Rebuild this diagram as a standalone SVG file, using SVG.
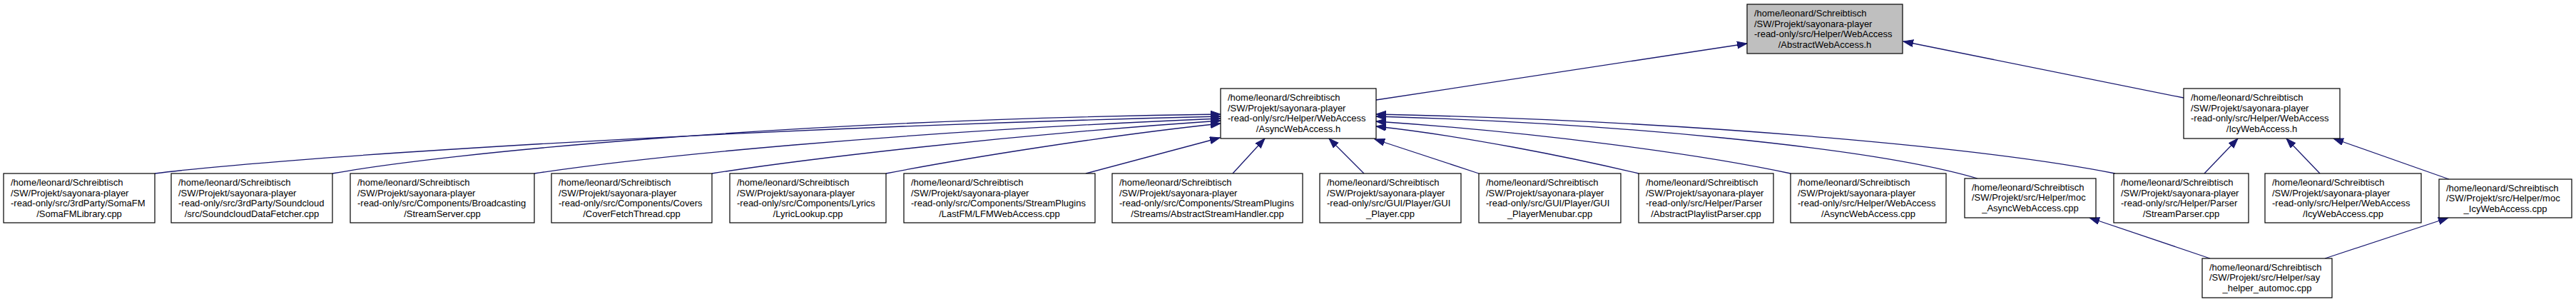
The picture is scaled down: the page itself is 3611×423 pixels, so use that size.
<svg xmlns="http://www.w3.org/2000/svg" width="3611" height="423" viewBox="0 0 3611 423">
<style>
.n rect{fill:#fff;stroke:#000;stroke-width:1.2}
.n.g rect{fill:#bfbfbf}
.n text{font-family:"Liberation Sans",Arial,sans-serif;font-size:13px;fill:#000}
.n text.c{text-anchor:middle}
#edges path{fill:none;stroke:#191970;stroke-width:1.3;marker-end:url(#ah)}
</style>
<defs>
<marker id="ah" markerUnits="userSpaceOnUse" markerWidth="16" markerHeight="12" refX="14" refY="5" orient="auto">
<path d="M0,0 L14,5 L0,10 z" fill="#191970" stroke="#191970" stroke-width="1"/>
</marker>
</defs>
<rect width="3611" height="423" fill="#fff"/>
<g id="edges">
<path d="M1929,140 L2449,61"/>
<path d="M3061,137 L2668,58"/>
<path d="M217,243 C380,222 1000,180 1711,163"/>
<path d="M466,243 C620,215 1100,168 1711,160"/>
<path d="M749,243 C900,220 1250,185 1711,166"/>
<path d="M998,243 C1120,224 1400,190 1711,169"/>
<path d="M1242,243 C1350,222 1550,190 1711,173"/>
<path d="M1522,243 L1710,193"/>
<path d="M1728,243 L1773,194"/>
<path d="M1912,243 L1863,194"/>
<path d="M2073,243 L1927,195"/>
<path d="M2297,243 C2200,220 2050,190 1929,177"/>
<path d="M2510,243 C2380,215 2150,185 1929,170"/>
<path d="M2772,250 C2620,205 2250,172 1929,163"/>
<path d="M2965,243 C2800,210 2400,170 1929,160"/>
<path d="M3090,243 L3137,194"/>
<path d="M3252,243 L3205,194"/>
<path d="M3433,251 L3271,194"/>
<path d="M3098,362 L2929,305"/>
<path d="M3259,362 L3432,305"/>
</g>
<g id="abstract_h" class="n g"><rect x="2449" y="6" width="218" height="69"/>
<text x="2459" y="23">/home/leonard/Schreibtisch</text><text x="2459" y="37.5">/SW/Projekt/sayonara-player</text><text x="2459" y="52">-read-only/src/Helper/WebAccess</text><text class="c" x="2558" y="66.5">/AbstractWebAccess.h</text></g>
<g id="async_h" class="n"><rect x="1711" y="124" width="218" height="70"/>
<text x="1721" y="141">/home/leonard/Schreibtisch</text><text x="1721" y="155.5">/SW/Projekt/sayonara-player</text><text x="1721" y="170">-read-only/src/Helper/WebAccess</text><text class="c" x="1820" y="184.5">/AsyncWebAccess.h</text></g>
<g id="icy_h" class="n"><rect x="3061" y="124" width="219" height="70"/>
<text x="3071" y="141">/home/leonard/Schreibtisch</text><text x="3071" y="155.5">/SW/Projekt/sayonara-player</text><text x="3071" y="170">-read-only/src/Helper/WebAccess</text><text class="c" x="3170.5" y="184.5">/IcyWebAccess.h</text></g>
<g id="somafm" class="n"><rect x="5" y="243" width="212" height="69"/>
<text x="15" y="260">/home/leonard/Schreibtisch</text><text x="15" y="274.5">/SW/Projekt/sayonara-player</text><text x="15" y="289">-read-only/src/3rdParty/SomaFM</text><text class="c" x="111" y="303.5">/SomaFMLibrary.cpp</text></g>
<g id="soundcloud" class="n"><rect x="240" y="243" width="226" height="69"/>
<text x="250" y="260">/home/leonard/Schreibtisch</text><text x="250" y="274.5">/SW/Projekt/sayonara-player</text><text x="250" y="289">-read-only/src/3rdParty/Soundcloud</text><text class="c" x="353" y="303.5">/src/SoundcloudDataFetcher.cpp</text></g>
<g id="broadcasting" class="n"><rect x="491" y="243" width="258" height="69"/>
<text x="501" y="260">/home/leonard/Schreibtisch</text><text x="501" y="274.5">/SW/Projekt/sayonara-player</text><text x="501" y="289">-read-only/src/Components/Broadcasting</text><text class="c" x="620" y="303.5">/StreamServer.cpp</text></g>
<g id="covers" class="n"><rect x="773" y="243" width="225" height="69"/>
<text x="783" y="260">/home/leonard/Schreibtisch</text><text x="783" y="274.5">/SW/Projekt/sayonara-player</text><text x="783" y="289">-read-only/src/Components/Covers</text><text class="c" x="885.5" y="303.5">/CoverFetchThread.cpp</text></g>
<g id="lyrics" class="n"><rect x="1023" y="243" width="219" height="69"/>
<text x="1033" y="260">/home/leonard/Schreibtisch</text><text x="1033" y="274.5">/SW/Projekt/sayonara-player</text><text x="1033" y="289">-read-only/src/Components/Lyrics</text><text class="c" x="1132.5" y="303.5">/LyricLookup.cpp</text></g>
<g id="lastfm" class="n"><rect x="1267" y="243" width="268" height="69"/>
<text x="1277" y="260">/home/leonard/Schreibtisch</text><text x="1277" y="274.5">/SW/Projekt/sayonara-player</text><text x="1277" y="289">-read-only/src/Components/StreamPlugins</text><text class="c" x="1401" y="303.5">/LastFM/LFMWebAccess.cpp</text></g>
<g id="streams" class="n"><rect x="1559" y="243" width="267" height="69"/>
<text x="1569" y="260">/home/leonard/Schreibtisch</text><text x="1569" y="274.5">/SW/Projekt/sayonara-player</text><text x="1569" y="289">-read-only/src/Components/StreamPlugins</text><text class="c" x="1692.5" y="303.5">/Streams/AbstractStreamHandler.cpp</text></g>
<g id="gui_player" class="n"><rect x="1850" y="243" width="198" height="69"/>
<text x="1860" y="260">/home/leonard/Schreibtisch</text><text x="1860" y="274.5">/SW/Projekt/sayonara-player</text><text x="1860" y="289">-read-only/src/GUI/Player/GUI</text><text class="c" x="1949" y="303.5">_Player.cpp</text></g>
<g id="gui_playermenubar" class="n"><rect x="2073" y="243" width="199" height="69"/>
<text x="2083" y="260">/home/leonard/Schreibtisch</text><text x="2083" y="274.5">/SW/Projekt/sayonara-player</text><text x="2083" y="289">-read-only/src/GUI/Player/GUI</text><text class="c" x="2172.5" y="303.5">_PlayerMenubar.cpp</text></g>
<g id="playlistparser" class="n"><rect x="2297" y="243" width="189" height="69"/>
<text x="2307" y="260">/home/leonard/Schreibtisch</text><text x="2307" y="274.5">/SW/Projekt/sayonara-player</text><text x="2307" y="289">-read-only/src/Helper/Parser</text><text class="c" x="2391.5" y="303.5">/AbstractPlaylistParser.cpp</text></g>
<g id="async_cpp" class="n"><rect x="2510" y="243" width="218" height="69"/>
<text x="2520" y="260">/home/leonard/Schreibtisch</text><text x="2520" y="274.5">/SW/Projekt/sayonara-player</text><text x="2520" y="289">-read-only/src/Helper/WebAccess</text><text class="c" x="2619" y="303.5">/AsyncWebAccess.cpp</text></g>
<g id="moc_async" class="n"><rect x="2754" y="250" width="184" height="55"/>
<text x="2764" y="266.75">/home/leonard/Schreibtisch</text><text x="2764" y="281.25">/SW/Projekt/src/Helper/moc</text><text class="c" x="2846" y="295.75">_AsyncWebAccess.cpp</text></g>
<g id="streamparser" class="n"><rect x="2963" y="243" width="189" height="69"/>
<text x="2973" y="260">/home/leonard/Schreibtisch</text><text x="2973" y="274.5">/SW/Projekt/sayonara-player</text><text x="2973" y="289">-read-only/src/Helper/Parser</text><text class="c" x="3057.5" y="303.5">/StreamParser.cpp</text></g>
<g id="icy_cpp" class="n"><rect x="3175" y="243" width="219" height="69"/>
<text x="3185" y="260">/home/leonard/Schreibtisch</text><text x="3185" y="274.5">/SW/Projekt/sayonara-player</text><text x="3185" y="289">-read-only/src/Helper/WebAccess</text><text class="c" x="3284.5" y="303.5">/IcyWebAccess.cpp</text></g>
<g id="moc_icy" class="n"><rect x="3419" y="251" width="186" height="54"/>
<text x="3429" y="267.5">/home/leonard/Schreibtisch</text><text x="3429" y="282">/SW/Projekt/src/Helper/moc</text><text class="c" x="3512" y="296.5">_IcyWebAccess.cpp</text></g>
<g id="say_helper" class="n"><rect x="3087" y="362" width="182" height="55"/>
<text x="3097" y="378.75">/home/leonard/Schreibtisch</text><text x="3097" y="393.25">/SW/Projekt/src/Helper/say</text><text class="c" x="3178" y="407.75">_helper_automoc.cpp</text></g>
</svg>
